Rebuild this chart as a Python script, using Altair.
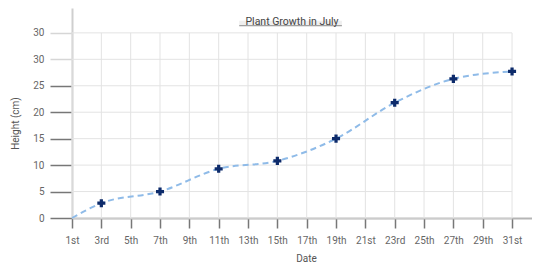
import altair as alt
import pandas as pd

# ---- data ----
days = [1, 3, 7, 11, 15, 19, 23, 27, 31]
heights = [0, 2.8, 5.0, 9.3, 10.8, 15.0, 21.8, 26.3, 27.7]
has_marker = [False, True, True, True, True, True, True, True, True]

tick_days = [1, 3, 5, 7, 9, 11, 13, 15, 17, 19, 21, 23, 25, 27, 29, 31]
tick_labels = ["1st", "3rd", "5th", "7th", "9th", "11th", "13th", "15th",
               "17th", "19th", "21st", "23rd", "25th", "27th", "29th", "31st"]
y_ticks = [0, 5, 10, 15, 20, 25, 30, 35]
y_tick_labels = ["0", "5", "10", "15", "20", "25", "30", "30"]

title_text = "Plant Growth in July"
x_title = "Date"
y_title = "Height (cm)"

# ---- frames ----
df = pd.DataFrame({"day": days, "height": heights, "marker": has_marker})
df_pts = df[df["marker"]]
df_xt = pd.DataFrame({"day": tick_days})
df_yt = pd.DataFrame({"v": y_ticks})

FONT = "Roboto"
xs = alt.Scale(domain=[1, 32.36], nice=False, zero=False)
ys = alt.Scale(domain=[0, 39.7], nice=False, zero=False)

x_label_expr = "[" + ",".join("'%s'" % t for t in tick_labels) + "][(datum.value - 1) / 2]"
y_label_expr = "[" + ",".join("'%s'" % t for t in y_tick_labels) + "][datum.value / 5]"

x_axis = alt.Axis(
    values=tick_days, labelExpr=x_label_expr, title=x_title, grid=False,
    tickSize=10, tickColor="#777777", tickWidth=1.5,
    domainColor="#b5b5b5", domainWidth=2,
    labelFont=FONT, labelFontSize=10, labelColor="#666666", labelPadding=7,
    labelFlush=False, labelOverlap=False,
    titleFont=FONT, titleFontSize=10, titleFontWeight="normal", titleColor="#555555",
    titlePadding=8, titleX=234,
)
y_axis = alt.Axis(
    values=y_ticks, labelExpr=y_label_expr, title=y_title, grid=False,
    tickSize=22, tickWidth=1.5,
    tickColor={"condition": {"test": "datum.value >= 30", "value": "#d6d6d6"}, "value": "#777777"},
    domainColor="#cfcfcf", domainWidth=2,
    labelFont=FONT, labelFontSize=10, labelColor="#666666", labelPadding=6,
    labelFlush=False,
    titleFont=FONT, titleFontSize=10, titleFontWeight="normal", titleColor="#555555",
    titleX=-52, titleY=115, titleAngle=-90,
)

vgrid = alt.Chart(df_xt).mark_rule(color="#e3e3e3", strokeWidth=1).encode(
    x=alt.X("day:Q", scale=xs, axis=x_axis),
    y=alt.YDatum(0, scale=ys, axis=y_axis),
    y2=alt.Y2Datum(35),
)
hgrid = alt.Chart(df_yt).mark_rule(color="#e3e3e3", strokeWidth=1).encode(
    y=alt.Y("v:Q", scale=ys, axis=y_axis),
    x=alt.XDatum(1, scale=xs, axis=x_axis),
    x2=alt.X2Datum(31),
)

line = alt.Chart(df).mark_line(
    color="#8fbbe8", strokeWidth=2, strokeDash=[6, 4], interpolate="monotone"
).encode(
    x=alt.X("day:Q", scale=xs, axis=x_axis),
    y=alt.Y("height:Q", scale=ys, axis=y_axis),
)

points = alt.Chart(df_pts).mark_point(
    shape="cross", filled=True, size=65, color="#0d2b6b", opacity=1
).encode(
    x=alt.X("day:Q", scale=xs, axis=x_axis),
    y=alt.Y("height:Q", scale=ys, axis=y_axis),
)

tdf = pd.DataFrame({"t": [title_text]})
title_bg = alt.Chart(tdf).mark_rect(color="#efefef").encode(
    x=alt.XDatum(12.4, scale=xs, axis=x_axis), x2=alt.X2Datum(19.4),
    y=alt.YDatum(36.35, scale=ys, axis=y_axis), y2=alt.Y2Datum(37.3),
)
title_ul = alt.Chart(tdf).mark_rule(color="#8a8a8a", strokeWidth=1).encode(
    x=alt.XDatum(12.4, scale=xs, axis=x_axis), x2=alt.X2Datum(19.4),
    y=alt.YDatum(36.35, scale=ys, axis=y_axis),
)
title = alt.Chart(tdf).mark_text(
    font=FONT, fontSize=10.5, color="#444444", align="center", baseline="middle"
).encode(
    x=alt.XDatum(16, scale=xs, axis=x_axis),
    y=alt.YDatum(37.1, scale=ys, axis=y_axis),
    text="t:N",
)

chart = alt.layer(vgrid, hgrid, line, points, title_bg, title_ul, title).properties(
    width=460, height=210,
    autosize=alt.AutoSizeParams(type="none"),
    padding={"left": 64, "top": 0, "right": 0, "bottom": 47},
).configure_view(stroke=None)

chart.save("out.html", embed_options={"renderer": "svg", "actions": False})
